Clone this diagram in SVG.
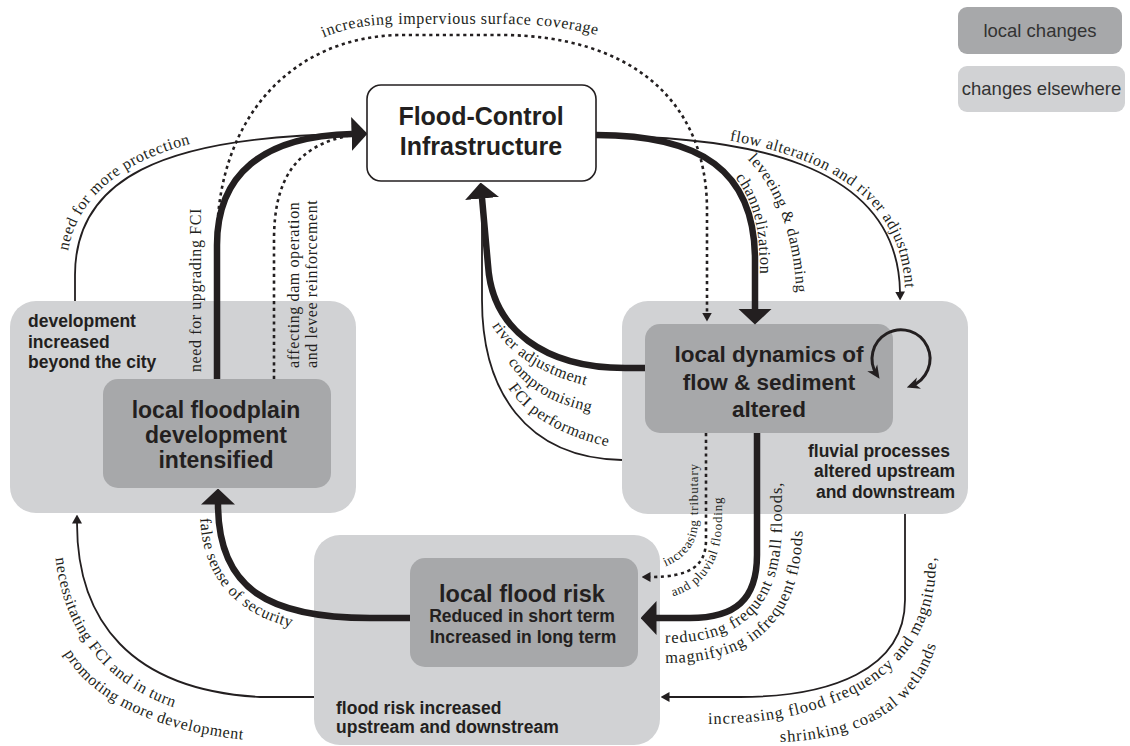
<svg xmlns="http://www.w3.org/2000/svg" width="1130" height="746" viewBox="0 0 1130 746">
<defs>
<style>
.outer{fill:#d1d2d4}
.inner{fill:#a7a8aa}
.nt{font-family:"Liberation Sans",Arial,sans-serif;font-weight:bold;fill:#231f20}
.lg{font-family:"Liberation Sans",Arial,sans-serif;font-size:18.5px;fill:#333333}
.lbl{font-family:"Liberation Serif","Times New Roman",serif;font-size:16px;letter-spacing:0.6px;fill:#231f20}
.big{font-size:16.5px;letter-spacing:0.9px}
.sm{font-family:"Liberation Serif","Times New Roman",serif;font-size:13px;letter-spacing:0.8px;fill:#231f20}
.thick{fill:none;stroke:#231f20;stroke-width:6.5}
.thin{fill:none;stroke:#231f20;stroke-width:1.8}
.dot{fill:none;stroke:#231f20;stroke-width:2.6;stroke-dasharray:3.2 3.6}
.loop{fill:none;stroke:#231f20;stroke-width:3}
</style>
<marker id="ahThick" markerUnits="userSpaceOnUse" viewBox="0 0 16 34" markerWidth="16" markerHeight="34" refX="0.5" refY="17" orient="auto"><path d="M0,0 L16,17 L0,34 Z" fill="#231f20"/></marker>
<marker id="ahThin" markerUnits="userSpaceOnUse" viewBox="0 0 9 10" markerWidth="9" markerHeight="10" refX="0.5" refY="5" orient="auto"><path d="M0,0 L9,5 L0,10 Z" fill="#231f20"/></marker>
<marker id="ahLoop" markerUnits="userSpaceOnUse" viewBox="0 0 13 13" markerWidth="13" markerHeight="13" refX="8.5" refY="6.5" orient="auto-start-reverse"><path d="M0,0.5 L13,6.5 L0,12.5 L3.8,6.5 Z" fill="#231f20"/></marker>
<path id="tpImperv" d="M318,40 C343,28 370,24 400,24 L500,24 C545,24 580,29 615,40"/>
<path id="tpProtect" d="M66,275 C66,178 157,127 355,125"/>
<path id="tpFlow" d="M596,131 C743,131 903,157 905,292"/>
<path id="tpChan" d="M596,130.5 C702.5,130.5 759.5,167.5 759.5,260 L759.5,320"/>
<path id="tpLev" d="M614,110 C726,112 796,172 797,310 L797,330"/>
<path id="tpRiver1" d="M492,326 C510,355 545,378 605,390"/>
<path id="tpRiver2" d="M508,362 C528,392 560,408 612,416"/>
<path id="tpRiver3" d="M508,388 C530,420 570,440 625,450"/>
<path id="tpTrib1" d="M656,570 C681,562 698,548 698,520 L698,430"/>
<path id="tpTrib2" d="M667,598 C702,590 722,564 722,520 L722,450"/>
<path id="tpReduce" d="M665,643 C750,643 782,600 782,520 L782,440"/>
<path id="tpMagn" d="M665,663 C765,663 803,610 803,520 L803,450"/>
<path id="tpIncFlood" d="M708,724 C826,724 936,680 936,560 L936,500"/>
<path id="tpShrink" d="M780,742 C877,739 942,694 942,600 L942,540"/>
<path id="tpFalse" d="M200,510 C200,600 262,636 370,636"/>
<path id="tpNecess" d="M54,530 C54,640 120,718 262,722"/>
<path id="tpPromo" d="M62,650 C90,700 155,735 272,742"/>
</defs>

<g id="legend-local">
<rect x="958" y="7" width="164" height="47" rx="9" class="inner"/>
<text x="1040" y="37" text-anchor="middle" class="lg">local changes</text>
</g>
<g id="legend-elsewhere">
<rect x="958" y="66" width="167" height="46" rx="9" class="outer"/>
<text x="1041.5" y="95" text-anchor="middle" class="lg">changes elsewhere</text>
</g>

<g id="node-development-beyond">
<rect x="10" y="301" width="346" height="212" rx="26" class="outer"/>
<text class="nt" font-size="17.5"><tspan x="28" y="327">development</tspan><tspan x="28" y="348">increased</tspan><tspan x="28" y="368">beyond the city</tspan></text>
</g>
<g id="node-local-floodplain">
<rect x="103" y="379" width="228" height="109" rx="15" class="inner"/>
<text class="nt" font-size="23" text-anchor="middle"><tspan x="216" y="418">local floodplain</tspan><tspan x="216" y="443">development</tspan><tspan x="216" y="468">intensified</tspan></text>
</g>

<g id="node-fluvial-elsewhere">
<rect x="622" y="301" width="346" height="213" rx="26" class="outer"/>
<text class="nt" font-size="17.5" text-anchor="end"><tspan x="950" y="457">fluvial processes</tspan><tspan x="955" y="477">altered upstream</tspan><tspan x="955" y="498">and downstream</tspan></text>
</g>
<g id="node-local-dynamics">
<rect x="645" y="324" width="248" height="109" rx="15" class="inner"/>
<text class="nt" font-size="22.5" text-anchor="middle"><tspan x="769" y="362">local dynamics of</tspan><tspan x="769" y="390">flow &amp; sediment</tspan><tspan x="769" y="417">altered</tspan></text>
</g>

<g id="node-flood-risk-elsewhere">
<rect x="314" y="535" width="346" height="210" rx="26" class="outer"/>
<text class="nt" font-size="17.5"><tspan x="336" y="714">flood risk increased</tspan><tspan x="336" y="733">upstream and downstream</tspan></text>
</g>
<g id="node-local-flood-risk">
<rect x="410" y="558" width="228" height="109" rx="15" class="inner"/>
<text class="nt" text-anchor="middle"><tspan x="522" y="602" font-size="23.5">local flood risk</tspan><tspan x="522" y="622" font-size="17.5">Reduced in short term</tspan><tspan x="523" y="643" font-size="17.5">Increased in long term</tspan></text>
</g>

<g id="node-fci">
<rect x="367" y="85" width="229" height="96" rx="14" fill="#ffffff" stroke="#231f20" stroke-width="1.6"/>
<text class="nt" font-size="25" text-anchor="middle"><tspan x="481" y="125">Flood-Control</tspan><tspan x="481" y="155">Infrastructure</tspan></text>
</g>

<g id="connectors">
<path class="dot" d="M217,379 L217,240 C217,120 290,37 400,35 L500,35 C630,35 707,100 707,210 L707,313" marker-end="url(#ahThin)"/>
<path class="thin" d="M75,301 L75,275 C75,180 160,136 352,134"/>
<path class="dot" d="M274,379 L274,240 C274,180 295,145 352,135"/>
<path class="thick" d="M217,379 L217,245 C217,175 262,136 352,134" marker-end="url(#ahThick)"/>
<path class="thin" d="M596,136 C740,136 898,160 900,292" marker-end="url(#ahThin)"/>
<path class="thick" d="M596,135 C700,135 755,170 755,260 L755,309" marker-end="url(#ahThick)"/>
<path class="thin" d="M622,460 C525,458 482,390 482,300 L482,200"/>
<path class="thick" d="M645,368 L625,368 C545,368 492,330 488,265 L482,198" marker-end="url(#ahThick)"/>
<path class="loop" d="M877,375 A29,29 0 1 1 911,386" marker-start="url(#ahLoop)" marker-end="url(#ahLoop)"/>
<path class="dot" d="M706,433 L706,540 C706,566 690,577 650,577" marker-end="url(#ahThin)"/>
<path class="thick" d="M757,433 L757,555 C757,600 735,618 690,618 L656,618" marker-end="url(#ahThick)"/>
<path class="thin" d="M905,514 L905,600 C905,670 830,697 740,697 L669,697" marker-end="url(#ahThin)"/>
<path class="thick" d="M410,618 L370,618 C270,618 218,590 218,504" marker-end="url(#ahThick)"/>
<path class="thin" d="M314,697 L260,697 C130,690 77,620 77,523" marker-end="url(#ahThin)"/>

<text class="lbl"><textPath href="#tpImperv" startOffset="6">increasing impervious surface coverage</textPath></text>
<text class="lbl"><textPath href="#tpProtect" startOffset="24">need for more protection</textPath></text>
<text class="lbl" transform="translate(201,372) rotate(-90)">need for upgrading FCI</text>
<text class="lbl" transform="translate(299,368) rotate(-90)">affecting dam operation</text>
<text class="lbl" transform="translate(317,368) rotate(-90)">and levee reinforcement</text>
<text class="lbl"><textPath href="#tpFlow" startOffset="134">flow alteration and river adjustment</textPath></text>
<text class="lbl"><textPath href="#tpLev" startOffset="146">leveeing &amp; damming</textPath></text>
<text class="lbl"><textPath href="#tpChan" startOffset="152">channelization</textPath></text>
<text class="lbl"><textPath href="#tpRiver1">river adjustment</textPath></text>
<text class="lbl"><textPath href="#tpRiver2">compromising</textPath></text>
<text class="lbl"><textPath href="#tpRiver3">FCI performance</textPath></text>
<text class="sm"><textPath href="#tpTrib1" startOffset="10">increasing tributary</textPath></text>
<text class="sm"><textPath href="#tpTrib2" startOffset="6">and pluvial flooding</textPath></text>
<text class="lbl big"><textPath href="#tpReduce">reducing frequent small floods,</textPath></text>
<text class="lbl big"><textPath href="#tpMagn">magnifying infrequent floods</textPath></text>
<text class="lbl big"><textPath href="#tpIncFlood">increasing flood frequency and magnitude,</textPath></text>
<text class="lbl big"><textPath href="#tpShrink">shrinking coastal wetlands</textPath></text>
<text class="lbl"><textPath href="#tpFalse" startOffset="8">false sense of security</textPath></text>
<text class="lbl"><textPath href="#tpNecess" startOffset="28">necessitating FCI and in turn</textPath></text>
<text class="lbl"><textPath href="#tpPromo" startOffset="4">promoting more development</textPath></text>
</g>
</svg>
